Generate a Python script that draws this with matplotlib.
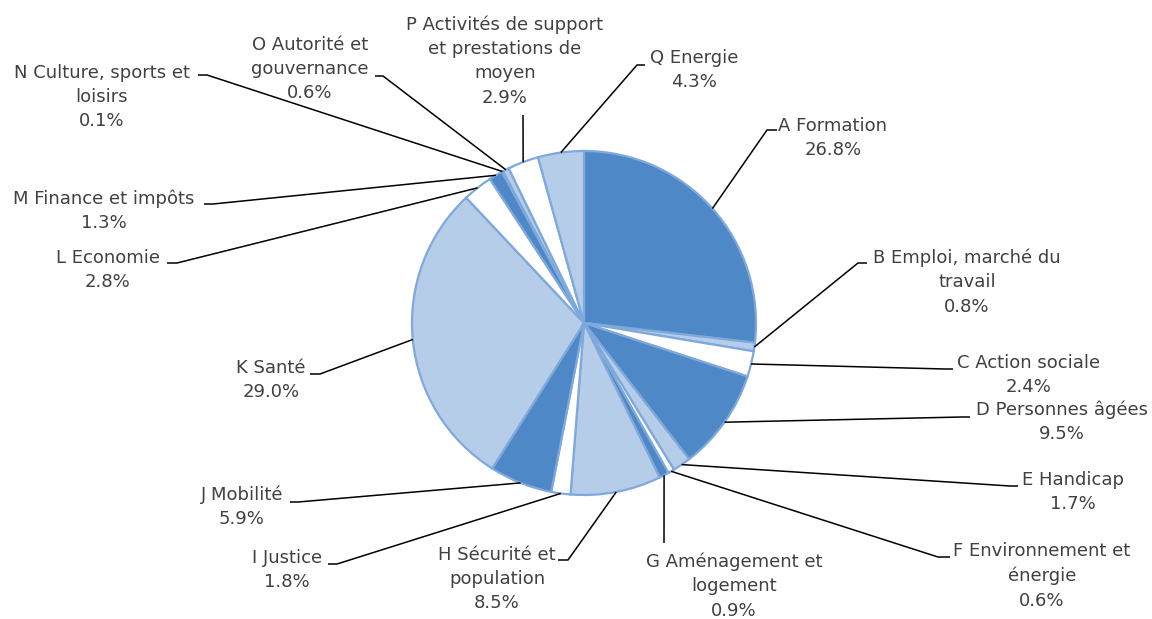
import matplotlib.pyplot as plt
import numpy as np

W, H = 1152, 619

labels = ["A Formation", "B Emploi, marché du\ntravail", "C Action sociale",
          "D Personnes âgées", "E Handicap", "F Environnement et\nénergie",
          "G Aménagement et\nlogement", "H Sécurité et\npopulation", "I Justice",
          "J Mobilité", "K Santé", "L Economie", "M Finance et impôts",
          "N Culture, sports et\nloisirs", "O Autorité et\ngouvernance",
          "P Activités de support\net prestations de\nmoyen", "Q Energie"]
shares = [26.8, 0.8, 2.4, 9.5, 1.7, 0.6, 0.9, 8.5, 1.8, 5.9, 29.0, 2.8, 1.3, 0.1, 0.6, 2.9, 4.3]

dark, light, white = '#4f88c6', '#b6cdea', '#ffffff'
colors = [dark, light, white, dark, light, white, dark, light, white,
          dark, light, white, dark, light, light, white, light]

# label block centres (pixels, y from top)
text_pos = [(833, 138), (967, 282), (1029, 375), (1062, 422), (1073, 492),
            (1042, 576), (734, 586), (497, 579), (287, 570), (242, 507),
            (271, 380), (108, 270), (104, 211), (102, 97), (310, 69),
            (505, 61), (694, 70)]
# elbow of leader line and end of short stub next to text (pixels)
elbow = [(767, 130), (858, 263), (945, 369), (962, 417), (1010, 486),
         (938, 557), (664, 543), (568, 560), (337, 564), (298, 502),
         (320, 374), (177, 263), (213, 204), (207, 75), (383, 76),
         (523, 115), (637, 65)]
stub = [(777, 130), (867, 263), (953, 369), (970, 417), (1018, 486),
        (950, 557), (664, 543), (558, 560), (328, 564), (290, 502),
        (310, 374), (167, 263), (204, 204), (198, 75), (375, 76),
        (523, 115), (645, 65)]

cx, cy, r = 584, 323, 172

fig = plt.figure(figsize=(11.52, 6.19), dpi=100)
ax = fig.add_axes([0, 0, 1, 1])

wedges, _ = ax.pie(shares, colors=colors, startangle=90, counterclock=False,
                   center=(cx, H - cy), radius=r, frame=True,
                   wedgeprops=dict(edgecolor='#7fa8dc', linewidth=1.6))

for i, w in enumerate(wedges):
    mid = np.deg2rad((w.theta1 + w.theta2) / 2)
    px, py = cx + r * np.cos(mid), (H - cy) + r * np.sin(mid)
    ex, ey = elbow[i]
    sx, sy = stub[i]
    ax.plot([px, ex, sx], [py, H - ey, H - sy], color='black', lw=1.1,
            solid_capstyle='butt', zorder=1)
    ax.text(text_pos[i][0], H - text_pos[i][1],
            labels[i] + "\n" + "%.1f%%" % shares[i],
            ha='center', va='center', multialignment='center',
            fontsize=13, color='#404040', linespacing=1.45)

ax.set_xlim(0, W)
ax.set_ylim(0, H)
ax.axis('off')

fig.savefig('out.png', dpi=100)
